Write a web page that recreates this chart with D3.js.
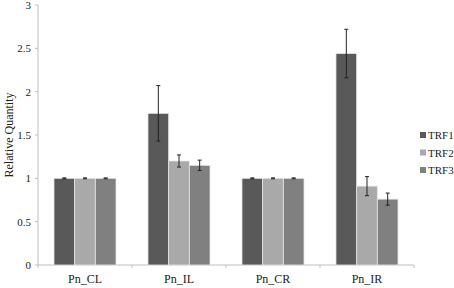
<!DOCTYPE html>
<html><head><meta charset="utf-8">
<script src="https://cdn.jsdelivr.net/npm/d3@7"></script>
<style>body{margin:0;background:#fff}svg{display:block}</style>
</head><body><svg id="c" width="454" height="288" font-family="'Liberation Serif', 'Times New Roman', Times, serif"></svg>
<script>
const categories=["Pn_CL","Pn_IL","Pn_CR","Pn_IR"];
const seriesNames=["TRF1","TRF2","TRF3"];
const trf1=[1,1.75,1,2.44];
const trf2=[1,1.2,1,0.91];
const trf3=[1,1.15,1,0.76];
const err1=[0.005,0.32,0.005,0.28];
const err2=[0.005,0.07,0.005,0.11];
const err3=[0.005,0.06,0.005,0.07];
const yTicks=[0,0.5,1,1.5,2,2.5,3];
const colors=["#595959","#a9a9a9","#808080"];
const FONT="'Liberation Serif', 'Times New Roman', Times, serif";

const svg=d3.select("#c");
const x0=d3.scaleBand().domain(categories).range([38,414]).paddingInner(0.34).paddingOuter(0.17);
const x1=d3.scaleBand().domain(seriesNames).range([0,x0.bandwidth()]);
const y=d3.scaleLinear().domain([0,3]).range([265,5]);
const vals=[trf1,trf2,trf3], errs=[err1,err2,err3];

svg.append("line").attr("x1",38).attr("x2",38).attr("y1",y(3)).attr("y2",y(0)).attr("stroke","#bfbfbf");
svg.append("line").attr("x1",38).attr("x2",414).attr("y1",y(0)).attr("y2",y(0)).attr("stroke","#bfbfbf");
svg.selectAll(".yt").data(yTicks).enter().append("line").attr("x1",35).attr("x2",38).attr("y1",d=>y(d)).attr("y2",d=>y(d)).attr("stroke","#bfbfbf");
svg.selectAll(".yl").data(yTicks).enter().append("text").attr("font-family",FONT).attr("fill","#222").attr("x",31).attr("y",d=>y(d)+4).attr("text-anchor","end").attr("font-size",11).text(d=>d);
const bounds=d3.range(categories.length+1).map(i=>38+i*(376/categories.length));
svg.selectAll(".xt").data(bounds).enter().append("line").attr("x1",d=>d).attr("x2",d=>d).attr("y1",y(0)).attr("y2",y(0)+3).attr("stroke","#bfbfbf");

categories.forEach((c,i)=>{
  seriesNames.forEach((s,j)=>{
    const v=vals[j][i], e=errs[j][i];
    const bx=x0(c)+x1(s), bw=x1.bandwidth();
    svg.append("rect").attr("x",bx).attr("y",y(v)).attr("width",bw).attr("height",y(0)-y(v)).attr("fill",colors[j]).attr("stroke","#e6e6e6").attr("stroke-width",0.8);
    const cx=bx+bw/2;
    svg.append("line").attr("x1",cx).attr("x2",cx).attr("y1",y(v+e)).attr("y2",y(v-e)).attr("stroke","#222").attr("stroke-width",1);
    [v+e,v-e].forEach(t=>svg.append("line").attr("x1",cx-2).attr("x2",cx+2).attr("y1",y(t)).attr("y2",y(t)).attr("stroke","#222").attr("stroke-width",1));
  });
  svg.append("text").attr("font-family",FONT).attr("fill","#222").attr("x",x0(c)+x0.bandwidth()/2).attr("y",283).attr("text-anchor","middle").attr("font-size",12).text(c);
});

svg.append("text").attr("font-family",FONT).attr("fill","#222").attr("transform","translate(13,135) rotate(-90)").attr("text-anchor","middle").attr("font-size",12).text("Relative Quantity");

seriesNames.forEach((s,j)=>{
  const ly=135+j*17.5;
  svg.append("rect").attr("x",420).attr("y",ly-3).attr("width",6).attr("height",6).attr("fill",colors[j]);
  svg.append("text").attr("font-family",FONT).attr("fill","#222").attr("x",428).attr("y",ly+4).attr("font-size",11).text(s);
});
</script></body></html>
